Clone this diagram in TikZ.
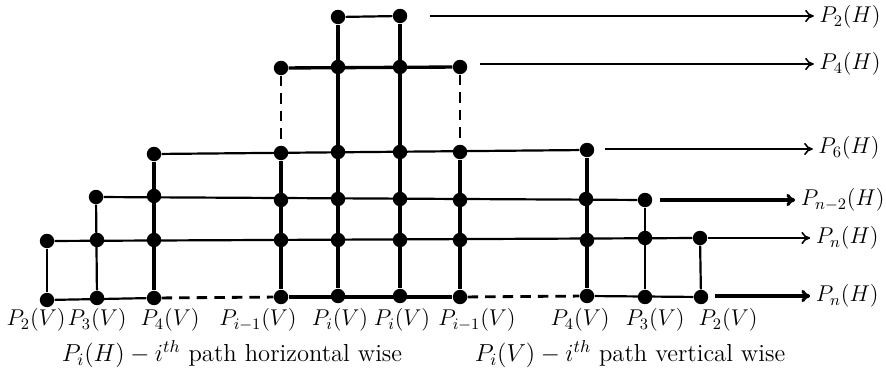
\RequirePackage{fix-cm}
\documentclass[tikz,border=0pt]{standalone}
\usepackage{tikz}
\usetikzlibrary{positioning,arrows.meta,calc}
\tikzset{
  vtx/.style={circle, fill=black, inner sep=0pt, minimum size=8.2pt},
  seg/.style={line width=1.25pt, black},
  heavy/.style={line width=1.9pt, black},
  gap/.style={line width=1.6pt, dash pattern=on 6pt off 4pt},
  harrow/.style={-{To[length=5pt,width=7pt]}, line width=0.9pt, shorten >=3pt},
  bigharrow/.style={harrow, line width=1.8pt},
  hlbl/.style={font=\fontsize{13}{16}\selectfont, inner sep=0pt, anchor=east},
  vlbl/.style={font=\fontsize{13}{16}\selectfont, inner sep=0pt},
  note/.style={font=\fontsize{14}{17}\selectfont, inner sep=0pt}
}
\begin{document}
\begin{tikzpicture}[x=0.02cm, y=-0.02cm]
\useasboundingbox (0,0) rectangle (886,371);
% grid points, row by row from the top
\node[vtx] (c5r1) at (338,17) {}; \node[vtx] (c6r1) at (400,16) {};
\node[vtx] (c4r2) at (281,68) {}; \node[vtx] (c5r2) at (338,67) {}; \node[vtx] (c6r2) at (400,67) {}; \node[vtx] (c7r2) at (460,67) {};
\node[vtx] (c3r3) at (154,154) {}; \node[vtx] (c4r3) at (281,153) {}; \node[vtx] (c5r3) at (338,152) {}; \node[vtx] (c6r3) at (400,152) {};
\node[vtx] (c7r3) at (460,152) {}; \node[vtx] (c8r3) at (587,150) {};
\node[vtx] (c2r4) at (96,197) {}; \node[vtx] (c3r4) at (154,196) {}; \node[vtx] (c4r4) at (281,200) {}; \node[vtx] (c5r4) at (338,199) {};
\node[vtx] (c6r4) at (400,199) {}; \node[vtx] (c7r4) at (460,200) {}; \node[vtx] (c8r4) at (586,199) {}; \node[vtx] (c9r4) at (645,200) {};
\node[vtx] (c1r5) at (47,241) {}; \node[vtx] (c2r5) at (97,240) {}; \node[vtx] (c3r5) at (154,240) {}; \node[vtx] (c4r5) at (281,240) {};
\node[vtx] (c5r5) at (338,240) {}; \node[vtx] (c6r5) at (400,240) {}; \node[vtx] (c7r5) at (460,240) {}; \node[vtx] (c8r5) at (587,240) {};
\node[vtx] (c9r5) at (645,238) {}; \node[vtx] (c10r5) at (700,238) {};
\node[vtx] (c1r6) at (47,300) {}; \node[vtx] (c2r6) at (97,298) {}; \node[vtx] (c3r6) at (154,298) {}; \node[vtx] (c4r6) at (281,297) {};
\node[vtx] (c5r6) at (338,296) {}; \node[vtx] (c6r6) at (400,296) {}; \node[vtx] (c7r6) at (460,297) {}; \node[vtx] (c8r6) at (587,296) {};
\node[vtx] (c9r6) at (645,297) {}; \node[vtx] (c10r6) at (701,297) {};
% horizontal paths
\draw[seg] (c5r1) -- (c6r1);
\draw[heavy] (c4r2) -- (c7r2);
\draw[seg] (c3r3) -- (c8r3);
\draw[seg] (c2r4) -- (c9r4);
\draw[seg] (c1r5) -- (c10r5);
\draw[seg] (c1r6) -- (c3r6);
\draw[gap] (c3r6) -- (c4r6);
\draw[heavy] (c4r6) -- (c7r6);
\draw[gap] (c7r6) -- (c8r6);
\draw[seg] (c8r6) -- (c10r6);
% vertical paths
\draw[seg] (c1r5) -- (c1r6);
\draw[seg] (c2r4) -- (c2r6);
\draw[heavy] (c3r3) -- (c3r6);
\draw[gap] (c4r2) -- (c4r3);
\draw[heavy] (c4r3) -- (c4r6);
\draw[heavy] (c5r1) -- (c5r6);
\draw[heavy] (c6r1) -- (c6r6);
\draw[gap] (c7r2) -- (c7r3);
\draw[heavy] (c7r3) -- (c7r6);
\draw[heavy] (c8r3) -- (c8r6);
\draw[seg] (c9r4) -- (c9r6);
\draw[seg] (c10r5) -- (c10r6);
% horizontal labels
\node[hlbl] (h1) at (881,17) {$P_2(H)$};
\node[hlbl] (h2) at (881,64) {$P_4(H)$};
\node[hlbl] (h3) at (880,148) {$P_6(H)$};
\node[hlbl] (h4) at (885,200) {$P_{n-2}(H)$};
\node[hlbl] (h5) at (879,238) {$P_n(H)$};
\node[hlbl] (h6) at (879,296) {$P_n(H)$};
\coordinate (a1) at (430,16);
\coordinate (a2) at (480,64);
\coordinate (a3) at (605,149);
\coordinate (a4) at (660,200);
\coordinate (a5) at (708,238);
\coordinate (a6) at (715,296);
\draw[harrow] (a1) -- (a1 -| h1.west);
\draw[harrow] (a2) -- (a2 -| h2.west);
\draw[harrow] (a3) -- (a3 -| h3.west);
\draw[bigharrow] (a4) -- (a4 -| h4.west);
\draw[harrow] (a5) -- (a5 -| h5.west);
\draw[bigharrow] (a6) -- (a6 -| h6.west);
% vertical labels
\node[vlbl] (v1) at (36,320) {$P_2(V)$};
\node[vlbl] (v2) at (97,320) {$P_3(V)$};
\node[vlbl] (v3) at (170,320) {$P_4(V)$};
\node[vlbl] (v4) at (258,320) {$P_{i-1}(V)$};
\node[vlbl] (v5) at (340,320) {$P_i(V)$};
\node[vlbl] (v6) at (402,320) {$P_i(V)$};
\node[vlbl] (v7) at (477,320) {$P_{i-1}(V)$};
\node[vlbl] (v8) at (580,320) {$P_4(V)$};
\node[vlbl] (v9) at (655,320) {$P_3(V)$};
\node[vlbl] (v10) at (728,320) {$P_2(V)$};
% legend
\node[note] (k1) at (232,354) {$P_i(H)-i^{th}$ path horizontal wise};
\node[note] (k2) at (630,354) {$P_i(V)-i^{th}$ path vertical wise};
\end{tikzpicture}
\end{document}
